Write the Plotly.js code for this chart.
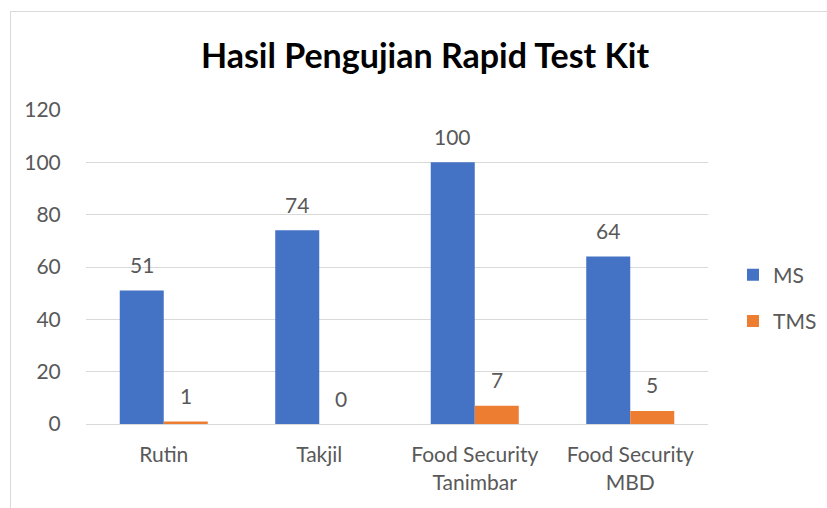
<!DOCTYPE html>
<html>
<head>
<meta charset="utf-8">
<script src="https://cdn.plot.ly/plotly-3.0.1.min.js"></script>
<style>
html,body{margin:0;padding:0;background:#fff;}
#frame{position:absolute;left:10px;top:11px;width:817px;height:497px;border-left:1px solid #D9D9D9;border-top:1px solid #D9D9D9;}
#chart{position:absolute;left:0;top:0;width:827px;height:508px;}
</style>
</head>
<body>
<div id="frame"></div>
<div id="chart"></div>
<script>
const categories = ["Rutin", "Takjil", "Food Security<br>Tanimbar", "Food Security<br>MBD"];
const msValues = [51, 74, 100, 64];
const tmsValues = [1, 0, 7, 5];
const yTicks = [0, 20, 40, 60, 80, 100, 120];

const FONT = "Lato, 'Open Sans', sans-serif";
const TXT = "#595959";
const FS = 21;

const traces = [
  {type: "bar", name: "MS", x: categories, y: msValues, marker: {color: "#4472C4"}, legendgroup: "a", hoverinfo: "none"},
  {type: "bar", name: "TMS", x: categories, y: tmsValues, marker: {color: "#ED7D31"}, legendgroup: "b", hoverinfo: "none"}
];

const annotations = [];
categories.forEach((c, i) => {
  annotations.push({x: c, y: msValues[i], xref: "x", yref: "y", text: String(msValues[i]), showarrow: false,
    xshift: -22, yshift: 26, yanchor: "middle", font: {family: FONT, size: FS, color: TXT}});
  annotations.push({x: c, y: tmsValues[i], xref: "x", yref: "y", text: String(tmsValues[i]), showarrow: false,
    xshift: 22, yshift: 26, yanchor: "middle", font: {family: FONT, size: FS, color: TXT}});
});

const layout = {
  width: 827, height: 508,
  margin: {l: 86, r: 119, t: 110, b: 84},
  paper_bgcolor: "rgba(0,0,0,0)", plot_bgcolor: "rgba(0,0,0,0)",
  font: {family: FONT, size: FS, color: TXT},
  title: {text: "<b>Hasil Pengujian Rapid Test Kit</b>", x: 425/827, xref: "container", xanchor: "center",
    y: 1 - 56/508, yref: "container", yanchor: "middle", font: {family: FONT, size: 34, color: "#000"}},
  barmode: "group", bargap: 0.434, bargroupgap: 0,
  xaxis: {type: "category", showgrid: false, zeroline: false, showline: true, linecolor: "#D9D9D9", linewidth: 1,
    ticks: "outside", ticklen: 12, tickcolor: "rgba(0,0,0,0)", tickfont: {family: FONT, size: FS, color: TXT}},
  yaxis: {range: [0, 120], tickvals: yTicks, showgrid: true, gridcolor: "#D9D9D9", gridwidth: 1, zeroline: false,
    showline: false, ticks: "outside", ticklen: 20, tickcolor: "rgba(0,0,0,0)", tickfont: {family: FONT, size: FS, color: TXT}},
  legend: {xref: "container", x: 733/827, xanchor: "left", yref: "container", y: 1 - 298/508, yanchor: "middle",
    traceorder: "grouped", tracegroupgap: 16,
    font: {family: FONT, size: FS, color: TXT}, bgcolor: "rgba(0,0,0,0)"},
  annotations: annotations,
  showlegend: true
};

Plotly.newPlot("chart", traces, layout, {displayModeBar: false, staticPlot: true});
</script>
</body>
</html>
